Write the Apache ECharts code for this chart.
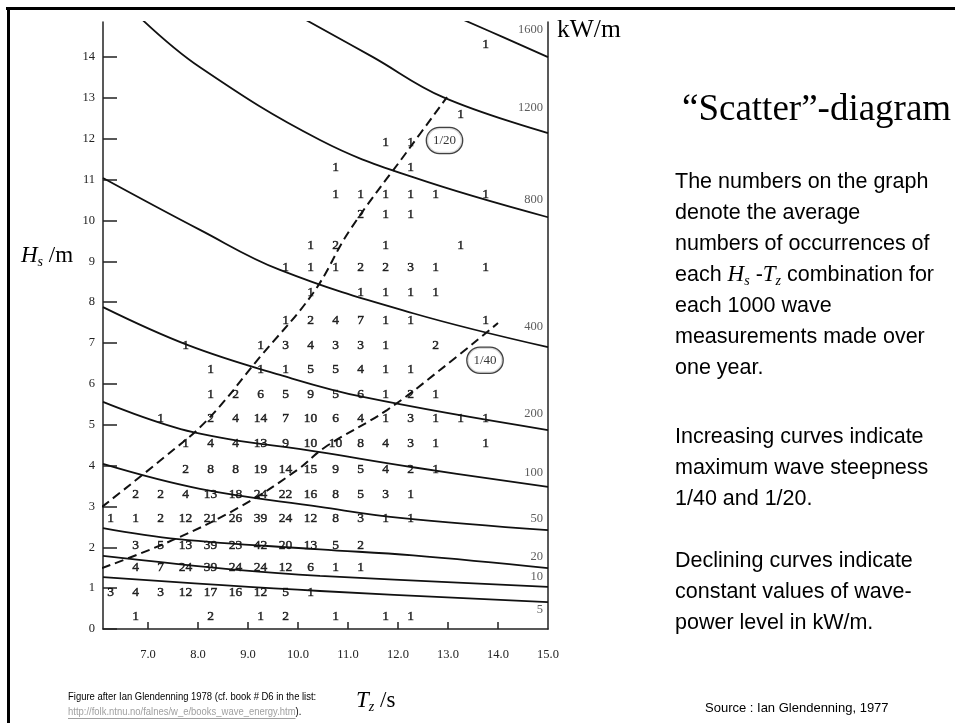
<!DOCTYPE html>
<html>
<head>
<meta charset="utf-8">
<title>Scatter diagram</title>
<script src="https://cdn.jsdelivr.net/npm/echarts@6/dist/echarts.min.js"></script>
<style>
  html, body { margin: 0; padding: 0; background: #fff; }
  #chart { width: 955px; height: 723px; }
</style>
</head>
<body>
<div id="chart"></div>
<script>
// Tz column centres (s) and Hs row centres (m) of the occurrence table
const tzColumns = [6.25, 6.75, 7.25, 7.75, 8.25, 8.75, 9.25, 9.75, 10.25, 10.75, 11.25, 11.75, 12.25, 12.75, 13.25, 13.75]
const hsRows = [0.3, 0.9, 1.5, 2.05, 2.7, 3.3, 3.9, 4.55, 5.15, 5.75, 6.35, 6.95, 7.55, 8.25, 8.85, 9.4, 10.15, 10.65, 11.3, 11.9, 12.6, 14.3]
const _ = null
// occurrences per 1000 measurements, one row per hsRows entry
const counts = [
  [_, 1, _, _, 2, _, 1, 2, _, 1, _, 1, 1, _, _, _],
  [3, 4, 3, 12, 17, 16, 12, 5, 1, _, _, _, _, _, _, _],
  [_, 4, 7, 24, 39, 24, 24, 12, 6, 1, 1, _, _, _, _, _],
  [_, 3, 5, 13, 39, 23, 42, 20, 13, 5, 2, _, _, _, _, _],
  [1, 1, 2, 12, 21, 26, 39, 24, 12, 8, 3, 1, 1, _, _, _],
  [_, 2, 2, 4, 13, 18, 24, 22, 16, 8, 5, 3, 1, _, _, _],
  [_, _, _, 2, 8, 8, 19, 14, 15, 9, 5, 4, 2, 1, _, _],
  [_, _, _, 1, 4, 4, 13, 9, 10, 10, 8, 4, 3, 1, _, 1],
  [_, _, 1, _, 2, 4, 14, 7, 10, 6, 4, 1, 3, 1, 1, 1],
  [_, _, _, _, 1, 2, 6, 5, 9, 5, 6, 1, 2, 1, _, _],
  [_, _, _, _, 1, _, 1, 1, 5, 5, 4, 1, 1, _, _, _],
  [_, _, _, 1, _, _, 1, 3, 4, 3, 3, 1, _, 2, _, _],
  [_, _, _, _, _, _, _, 1, 2, 4, 7, 1, 1, _, _, 1],
  [_, _, _, _, _, _, _, _, 1, _, 1, 1, 1, 1, _, _],
  [_, _, _, _, _, _, _, 1, 1, 1, 2, 2, 3, 1, _, 1],
  [_, _, _, _, _, _, _, _, 1, 2, _, 1, _, _, 1, _],
  [_, _, _, _, _, _, _, _, _, _, 2, 1, 1, _, _, _],
  [_, _, _, _, _, _, _, _, _, 1, 1, 1, 1, 1, _, 1],
  [_, _, _, _, _, _, _, _, _, 1, _, _, 1, _, _, _],
  [_, _, _, _, _, _, _, _, _, _, _, 1, 1, _, _, _],
  [_, _, _, _, _, _, _, _, _, _, _, _, _, _, 1, _],
  [_, _, _, _, _, _, _, _, _, _, _, _, _, _, _, 1]
]

// wave-power curves (kW/m), points [Tz, Hs]
const p1600 = [[13.24, 14.95], [14.1, 14.49], [15, 14.0]]
const p1200 = [[10.1, 14.95], [11.5, 14.0], [12.9, 13.02], [15, 12.14]]
const p800 = [[6.9, 14.9], [8.04, 13.75], [10.44, 11.97], [12.3, 11.06], [15, 10.08]]
const p400 = [[6.1, 11.04], [8.04, 9.77], [9.64, 8.79], [12.3, 7.73], [15, 6.9]]
const p200 = [[6.1, 7.88], [7.8, 6.95], [9.64, 6.22], [11.3, 5.68], [15, 4.87]]
const p100 = [[6.1, 5.56], [7.9, 4.82], [10.44, 4.33], [12.3, 3.96], [15, 3.48]]
const p50 = [[6.1, 4.04], [8.04, 3.43], [10.44, 2.99], [12.04, 2.72], [15, 2.42]]
const p20 = [[6.1, 2.47], [7.6, 2.2], [10.44, 1.95], [12.3, 1.8], [15, 1.49]]
const p10 = [[6.1, 1.79], [8.84, 1.44], [10.44, 1.3], [15, 1.03]]
const p5 = [[6.1, 1.27], [10.44, 0.93], [15, 0.66]]
const powerLevels = ['1600', '1200', '800', '400', '200', '100', '50', '20', '10', '5']
const powerLabelHs = [14.68, 12.77, 10.5, 7.39, 5.28, 3.82, 2.69, 1.76, 1.27, 0.46]

// maximum steepness curves
const steep40 = [[6.08, 1.49], [7.5, 2.18], [8.84, 2.99], [9.98, 3.89], [10.54, 4.45], [11.78, 5.36], [12.84, 6.34], [14.0, 7.49]]
const steep20 = [[6.08, 2.99], [7.3, 4.18], [8.18, 5.11], [9.24, 6.66], [10.3, 8.22], [11.04, 9.77], [12.2, 11.72], [12.98, 13.02]]
const steepLabels = [[12.93, 11.96, '1/20'], [13.74, 6.58, '1/40']]

// axis ticks
const tzTicks = [7, 8, 9, 10, 11, 12, 13, 14]
const tzLabels = [7, 8, 9, 10, 11, 12, 13, 14, 15]
const hsTicks = [0, 1, 2, 3, 4, 5, 6, 7, 8, 9, 10, 11, 12, 13, 14]

const SERIF = '"Times New Roman", "Liberation Serif", serif'
const SANS = 'Arial, "Liberation Sans", sans-serif'

let cells = []
hsRows.forEach((hs, r) => {
  counts[r].forEach((n, c) => {
    if (n !== null) cells.push([tzColumns[c], hs, n])
  })
})

const curveList = [p1600, p1200, p800, p400, p200, p100, p50, p20, p10, p5]

let series = [
  {
    name: 'occurrences',
    type: 'scatter',
    data: cells,
    symbolSize: 0,
    silent: true,
    itemStyle: { color: '#000' },
    label: {
      show: true,
      position: 'inside',
      formatter: p => p.value[2],
      fontFamily: SERIF,
      fontSize: 13.5,
      color: '#000',
      // slight stroke to mimic the heavy scanned digits
      textBorderColor: '#000',
      textBorderWidth: 0.5
    }
  }
]
curveList.forEach((pts, i) => {
  series.push({
    name: powerLevels[i] + ' kW/m',
    type: 'line',
    data: pts,
    smooth: 0.4,
    showSymbol: false,
    silent: true,
    lineStyle: { color: '#111', width: 1.8 }
  })
})
;[steep40, steep20].forEach((pts, i) => {
  series.push({
    name: i ? 'steepness 1/20' : 'steepness 1/40',
    type: 'line',
    data: pts,
    smooth: 0.4,
    showSymbol: false,
    silent: true,
    lineStyle: { color: '#111', width: 2, type: [9, 5] }
  })
})
series.push({
  name: 'power labels',
  type: 'scatter',
  data: powerLabelHs.map((h, i) => [15, h, powerLevels[i]]),
  symbolSize: 0,
  silent: true,
  itemStyle: { color: '#000' },
  label: {
    show: true,
    position: 'left',
    distance: 5,
    formatter: p => p.value[2],
    fontFamily: SERIF,
    fontSize: 12.5,
    color: '#333',
    textBorderWidth: 0
  }
})
series.push({
  name: 'steepness labels',
  type: 'scatter',
  data: steepLabels,
  symbolSize: 0,
  silent: true,
  z: 5,
  itemStyle: { color: '#000' },
  label: {
    show: true,
    position: 'inside',
    formatter: p => p.value[2],
    fontFamily: SERIF,
    fontSize: 13,
    color: '#000',
    textBorderWidth: 0,
    backgroundColor: '#fff',
    borderColor: '#111',
    borderWidth: 1.3,
    borderRadius: 13,
    padding: [6, 6]
  }
})

const noteLines = [
  ['The numbers on the graph', 182],
  ['denote the average', 213],
  ['numbers of occurrences of', 244],
  ['each {i|H}{sub|s} -{i|T}{sub|z} combination for', 275],
  ['each 1000 wave', 306],
  ['measurements made over', 337],
  ['one year.', 368],
  ['Increasing curves indicate', 437],
  ['maximum wave steepness', 468],
  ['1/40 and 1/20.', 499],
  ['Declining curves indicate', 561],
  ['constant values of wave-', 592],
  ['power level in kW/m.', 623]
]

function txt (x, y, text, font, extra, el) {
  return Object.assign({
    type: 'text',
    x: x,
    y: y,
    silent: true,
    style: Object.assign({
      text: text,
      font: font,
      fill: '#000',
      align: 'left',
      textAlign: 'left',
      verticalAlign: 'middle',
      textVerticalAlign: 'middle'
    }, extra || {})
  }, el || {})
}

const richSub = {
  i: { fontFamily: SERIF, fontStyle: 'italic', fontSize: 23 },
  sub: { fontFamily: SERIF, fontStyle: 'italic', fontSize: 14, padding: [12, 0, 0, 0] },
  n: { fontFamily: SERIF, fontSize: 23 }
}

// footer: narrow sans text, grey underlined link
const footScale = 0.86
const linkText = 'http://folk.ntnu.no/falnes/w_e/books_wave_energy.htm'
const ctx = document.createElement('canvas').getContext('2d')
ctx.font = '11px Arial, "Liberation Sans", sans-serif'
const linkWidth = ctx.measureText(linkText).width * footScale

let graphics = [
  { type: 'line', silent: true, shape: { x1: 6, y1: 8.5, x2: 955, y2: 8.5 }, style: { stroke: '#000', lineWidth: 3 } },
  { type: 'line', silent: true, shape: { x1: 8.5, y1: 7, x2: 8.5, y2: 723 }, style: { stroke: '#000', lineWidth: 3 } },
  txt(557, 30, 'kW/m', '25.5px ' + SERIF),
  txt(682, 110, '\u201cScatter\u201d-diagram', '37px ' + SERIF),
  txt(21, 256, '{i|H}{sub|s}{n| /m}', '23px ' + SERIF, { rich: richSub }),
  txt(356, 701, '{i|T}{sub|z}{n| /s}', '23px ' + SERIF, { rich: richSub }),
  txt(705, 708, 'Source : Ian Glendenning, 1977', '13px ' + SANS),
  txt(68, 697, 'Figure after Ian Glendenning 1978 (cf. book # D6 in the list:', '11px ' + SANS, {}, { scaleX: footScale }),
  txt(68, 712, '{u|' + linkText + '}{n|).}', '11px ' + SANS, {
    rich: {
      u: { fontFamily: SANS, fontSize: 11, fill: '#a0a0a0' },
      n: { fontFamily: SANS, fontSize: 11, fill: '#000' }
    }
  }, { scaleX: footScale }),
  { type: 'line', silent: true, shape: { x1: 68, y1: 718.5, x2: 68 + linkWidth, y2: 718.5 }, style: { stroke: '#a0a0a0', lineWidth: 1 } }
]
noteLines.forEach(l => {
  graphics.push(txt(675, l[1], l[0], '21.5px ' + SANS, { rich: richSub }))
})

const chart = echarts.init(document.getElementById('chart'))
chart.setOption({
  animation: false,
  backgroundColor: '#fff',
  grid: { left: 103, right: 407, top: 22, bottom: 94 },
  xAxis: {
    type: 'value',
    min: 6.1,
    max: 15,
    axisLine: { show: true, lineStyle: { color: '#222', width: 1.5 } },
    axisTick: { show: true, inside: true, length: 7, customValues: tzTicks, lineStyle: { color: '#222', width: 1.5 } },
    axisLabel: {
      customValues: tzLabels,
      formatter: v => Number(v).toFixed(1),
      fontFamily: SERIF,
      fontSize: 12.5,
      color: '#222',
      margin: 19
    },
    splitLine: { show: false }
  },
  yAxis: [
    {
      type: 'value',
      min: 0,
      max: 14.86,
      axisLine: { show: true, lineStyle: { color: '#222', width: 1.5 } },
      axisTick: { show: true, inside: true, length: 14, customValues: hsTicks, lineStyle: { color: '#222', width: 1.5 } },
      axisLabel: {
        customValues: hsTicks,
        fontFamily: SERIF,
        fontSize: 12.5,
        color: '#222',
        margin: 8
      },
      splitLine: { show: false }
    },
    {
      type: 'value',
      position: 'right',
      min: 0,
      max: 14.86,
      axisLine: { show: true, onZero: false, lineStyle: { color: '#222', width: 1.5 } },
      axisTick: { show: false },
      axisLabel: { show: false },
      splitLine: { show: false }
    }
  ],
  series: series,
  graphic: graphics
})
</script>
</body>
</html>
